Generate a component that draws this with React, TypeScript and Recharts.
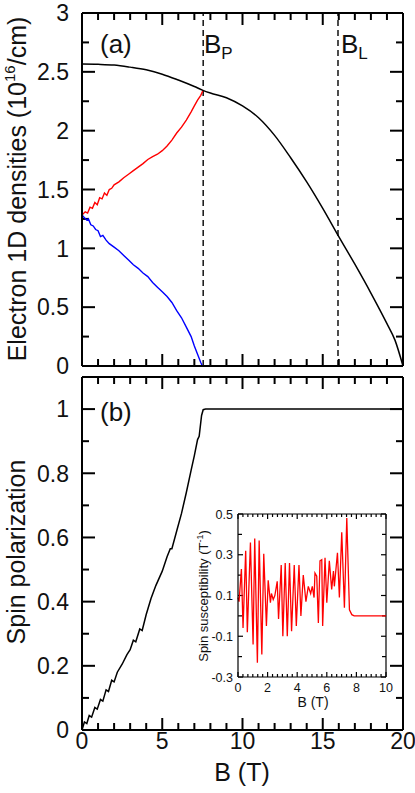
import React from 'react';
import { LineChart, Line, XAxis, YAxis, ReferenceLine } from 'recharts';

// panel (a): electron 1D densities, 10^16 /cm
const totalB = [0, 1, 2, 3, 4, 5, 6, 7, 7.5, 8, 9, 10, 11, 12, 13, 14, 15, 16, 17, 18, 19, 19.5, 20];
const totalN = [2.566, 2.564, 2.558, 2.54, 2.517, 2.48, 2.43, 2.375, 2.345, 2.32, 2.28, 2.21, 2.11, 1.96, 1.77, 1.565, 1.34, 1.1, 0.865, 0.62, 0.36, 0.22, 0];

const upB = [0, 0.2, 0.35, 0.5, 0.65, 0.8, 0.95, 1.1, 1.25, 1.4, 1.55, 1.7, 1.85, 2, 2.3, 2.6, 2.9, 3.2, 3.5, 3.8, 4.1, 4.4, 4.7, 5, 5.3, 5.6, 5.9, 6.2, 6.5, 6.8, 7, 7.2, 7.4, 7.55];
const upN = [1.283, 1.31, 1.3, 1.35, 1.34, 1.39, 1.37, 1.43, 1.42, 1.47, 1.45, 1.5, 1.51, 1.54, 1.565, 1.6, 1.63, 1.66, 1.69, 1.72, 1.755, 1.78, 1.8, 1.83, 1.87, 1.92, 1.98, 2.03, 2.09, 2.16, 2.21, 2.26, 2.3, 2.345];

const downB = [0, 0.15, 0.3, 0.4, 0.55, 0.7, 0.85, 1, 1.15, 1.3, 1.5, 1.7, 2, 2.3, 2.6, 2.9, 3.2, 3.5, 3.8, 4.1, 4.4, 4.7, 5, 5.3, 5.6, 5.9, 6.2, 6.5, 6.8, 7, 7.2, 7.4, 7.5];
const downN = [1.283, 1.26, 1.24, 1.25, 1.2, 1.19, 1.16, 1.15, 1.1, 1.11, 1.07, 1.04, 1.01, 0.98, 0.94, 0.9, 0.86, 0.83, 0.79, 0.76, 0.71, 0.67, 0.63, 0.59, 0.54, 0.47, 0.41, 0.33, 0.25, 0.17, 0.1, 0.03, 0];

const markerB = [7.55, 15.95];

// panel (b): spin polarization
const polB = [0, 0.15, 0.3, 0.45, 0.6, 0.8, 0.95, 1.15, 1.3, 1.5, 1.65, 1.85, 2, 2.2, 2.5, 2.8, 3, 3.2, 3.35, 3.6, 3.75, 4, 4.3, 4.6, 5, 5.3, 5.5, 5.6, 5.9, 6.2, 6.5, 6.8, 7, 7.2, 7.3, 7.45, 7.55, 7.7, 20];
const polP = [0, 0.025, 0.02, 0.045, 0.04, 0.07, 0.065, 0.095, 0.09, 0.125, 0.12, 0.155, 0.15, 0.18, 0.205, 0.235, 0.25, 0.28, 0.275, 0.315, 0.31, 0.36, 0.41, 0.45, 0.495, 0.54, 0.565, 0.565, 0.62, 0.675, 0.74, 0.81, 0.855, 0.905, 0.915, 0.98, 0.998, 1, 1];

// inset: spin susceptibility, 1/T
const chiB = [0, 0.07, 0.23, 0.34, 0.52, 0.63, 0.84, 1.02, 1.13, 1.31, 1.43, 1.61, 1.74, 1.92, 2.04, 2.19, 2.26, 2.38, 2.49, 2.65, 2.74, 2.92, 3.03, 3.19, 3.33, 3.48, 3.62, 3.8, 3.94, 4.12, 4.25, 4.41, 4.59, 4.75, 4.91, 5.02, 5.14, 5.2, 5.32, 5.43, 5.54, 5.66, 5.72, 5.88, 6, 6.17, 6.33, 6.45, 6.51, 6.72, 6.85, 7.01, 7.19, 7.35, 7.53, 7.69, 7.85, 10];
const chiV = [0.09, 0.07, 0.23, -0.06, 0.32, -0.08, 0.36, -0.14, 0.38, -0.23, 0.37, -0.19, 0.305, -0.05, 0.175, 0.065, 0.11, 0.08, 0.1, 0.17, -0.015, 0.25, -0.1, 0.26, -0.1, 0.26, -0.075, 0.25, -0.05, 0.25, 0, 0.2, 0.07, 0.145, 0.11, 0.145, 0.09, 0.21, 0.195, -0.035, 0.27, 0.276, -0.05, 0.285, 0.064, 0.27, 0.13, 0.22, 0.145, 0.31, 0.09, 0.41, 0.04, 0.48, 0.03, 0.006, 0, 0];

const topXTicks = ['0', '5', '10', '15', '20'];
const topYTicks = ['0', '0.5', '1', '1.5', '2', '2.5', '3'];
const botYTicks = ['0', '0.2', '0.4', '0.6', '0.8', '1'];
const insetXTicks = ['0', '2', '4', '6', '8', '10'];
const insetYTicks = ['-0.3', '-0.1', '0.1', '0.3', '0.5'];

const totalData = totalB.map((b, i) => ({ b, n: totalN[i] }));
const upData = upB.map((b, i) => ({ b, n: upN[i] }));
const downData = downB.map((b, i) => ({ b, n: downN[i] }));
const polData = polB.map((b, i) => ({ b, p: polP[i] }));
const chiData = chiB.map((b, i) => ({ b, c: chiV[i] }));

const FONT = '"Liberation Sans", Arial, sans-serif';

const steps = (from: number, to: number, step: number) =>
  Array.from({ length: Math.round((to - from) / step) + 1 }, (_, i) => +(from + i * step).toFixed(4));

const near = (v: number, list: string[]) => list.find((s) => Math.abs(parseFloat(s) - v) < 1e-6);

function labelTick(side: 'bottom' | 'left', labels: string[], fontSize: number, gap: number) {
  return (props: any) => {
    const { x, y, payload } = props;
    const lab = near(payload.value, labels);
    if (!lab) return <g />;
    if (side === 'bottom')
      return <text x={x} y={y + gap} dy="0.36em" textAnchor="middle" fontSize={fontSize} fill="#111" fontFamily={FONT}>{lab}</text>;
    return <text x={x - gap} y={y} dy="0.36em" textAnchor="end" fontSize={fontSize} fill="#111" fontFamily={FONT}>{lab}</text>;
  };
}

type FrameOpts = {
  xs: number[]; xLab: string[]; ys: number[]; yLab: string[];
  xDom: [number, number]; yDom: [number, number];
  pxX: number; pxY: number; // pixels per data unit
  xMaj: number; xMin: number; yMaj: number; yMin: number; // tick lengths in px
};

// inward tick marks on all four sides, one two-point series each
function tickSegs(o: FrameOpts) {
  const segs: { b: number; t: number }[][] = [];
  const [x0, x1] = o.xDom;
  const [y0, y1] = o.yDom;
  o.xs.forEach((v) => {
    const len = (near(v, o.xLab) ? o.xMaj : o.xMin) / o.pxY;
    segs.push([{ b: v, t: y0 }, { b: v, t: y0 + len }]);
    segs.push([{ b: v, t: y1 }, { b: v, t: y1 - len }]);
  });
  o.ys.forEach((v) => {
    const len = (near(v, o.yLab) ? o.yMaj : o.yMin) / o.pxX;
    segs.push([{ b: x0, t: v }, { b: x0 + len, t: v }]);
    segs.push([{ b: x1 - len, t: v }, { b: x1, t: v }]);
  });
  return segs;
}

function tickLines(segs: { b: number; t: number }[][], key: string, w: number) {
  return segs.map((s, i) => (
    <Line key={key + i} xAxisId="b" yAxisId="l" data={s} dataKey="t" type="linear" stroke="#000" strokeWidth={w} dot={false} activeDot={false} isAnimationActive={false} />
  ));
}

const axisLine = { stroke: '#000', strokeWidth: 2 };

function Rotated({ x, y, size, children }: { x: number; y: number; size: number; children: React.ReactNode }) {
  return (
    <div style={{ position: 'absolute', left: x, top: y, transform: 'translate(-50%, -50%) rotate(-90deg)', whiteSpace: 'nowrap', fontSize: size, lineHeight: 1, color: '#111' }}>
      {children}
    </div>
  );
}

function Txt({ x, y, size, children }: { x: number; y: number; size: number; children: React.ReactNode }) {
  return (
    <div style={{ position: 'absolute', left: x, top: y, transform: 'translateY(-50%)', whiteSpace: 'nowrap', fontSize: size, lineHeight: 1, color: '#111' }}>
      {children}
    </div>
  );
}

export default function App() {
  const xMinor = steps(0, 20, 1);
  const topY = steps(0, 3, 0.25);
  const botY = steps(0, 1.1, 0.1);
  const inX = steps(0, 10, 1 / 3);
  const inY = steps(-0.3, 0.5, 0.1);
  const ticksA = tickSegs({ xs: xMinor, xLab: topXTicks, ys: topY, yLab: topYTicks, xDom: [0, 20], yDom: [0, 3], pxX: 16.05, pxY: 117.7, xMaj: 12, xMin: 7, yMaj: 13, yMin: 7 });
  const ticksB = tickSegs({ xs: xMinor, xLab: topXTicks, ys: botY, yLab: botYTicks, xDom: [0, 20], yDom: [0, 1.1], pxX: 16.05, pxY: 321, xMaj: 12, xMin: 7, yMaj: 13, yMin: 7 });
  const ticksI = tickSegs({ xs: inX, xLab: insetXTicks, ys: inY, yLab: insetYTicks, xDom: [0, 10], yDom: [-0.3, 0.5], pxX: 14.8, pxY: 204, xMaj: 5, xMin: 3, yMaj: 5, yMin: 4 });
  return (
    <div style={{ position: 'absolute', left: 0, top: 0, width: 415, height: 793, background: '#fff', fontFamily: FONT }}>
      {/* (a) densities */}
      <div style={{ position: 'absolute', left: 0, top: 0 }}>
        <LineChart width={415} height={382} margin={{ top: 13, right: 12, left: 0, bottom: 6 }}>
          <XAxis xAxisId="b" type="number" dataKey="b" domain={[0, 20]} ticks={xMinor} interval={0} height={10} tickSize={0} tickMargin={0} axisLine={axisLine} tickLine={false} tick={false} />
          <YAxis yAxisId="l" type="number" domain={[0, 3]} ticks={topY} interval={0} width={82} tickSize={0} tickMargin={0} axisLine={axisLine} tickLine={false} tick={labelTick('left', topYTicks, 23, 13)} />
          <ReferenceLine xAxisId="b" yAxisId="l" y={3} stroke="#000" strokeWidth={2} />
          <ReferenceLine xAxisId="b" yAxisId="l" x={20} stroke="#000" strokeWidth={2} />
          {markerB.map((b) => (
            <ReferenceLine key={b} xAxisId="b" yAxisId="l" x={b} stroke="#000" strokeWidth={1.4} strokeDasharray="6 4" />
          ))}
          {tickLines(ticksA, 'a', 2)}
          <Line xAxisId="b" yAxisId="l" data={upData} dataKey="n" type="linear" stroke="#ff0000" strokeWidth={1.4} dot={false} isAnimationActive={false} />
          <Line xAxisId="b" yAxisId="l" data={downData} dataKey="n" type="linear" stroke="#0000ff" strokeWidth={1.4} dot={false} isAnimationActive={false} />
          <Line xAxisId="b" yAxisId="l" data={totalData} dataKey="n" type="monotone" stroke="#000" strokeWidth={1.5} dot={false} isAnimationActive={false} />
        </LineChart>
      </div>

      {/* (b) polarization */}
      <div style={{ position: 'absolute', left: 0, top: 370 }}>
        <LineChart width={415} height={423} margin={{ top: 7, right: 12, left: 0, bottom: 13 }}>
          <XAxis xAxisId="b" type="number" dataKey="b" domain={[0, 20]} ticks={xMinor} interval={0} height={50} tickSize={0} tickMargin={0} axisLine={axisLine} tickLine={false} tick={labelTick('bottom', topXTicks, 23, 11)} />
          <YAxis yAxisId="l" type="number" domain={[0, 1.1]} ticks={botY} interval={0} width={82} tickSize={0} tickMargin={0} axisLine={axisLine} tickLine={false} tick={labelTick('left', botYTicks, 23, 13)} />
          <ReferenceLine xAxisId="b" yAxisId="l" y={1.1} stroke="#000" strokeWidth={2} />
          <ReferenceLine xAxisId="b" yAxisId="l" x={20} stroke="#000" strokeWidth={2} />
          {tickLines(ticksB, 'b', 2)}
          <Line xAxisId="b" yAxisId="l" data={polData} dataKey="p" type="linear" stroke="#000" strokeWidth={1.5} dot={false} isAnimationActive={false} />
        </LineChart>
      </div>

      {/* inset */}
      <div style={{ position: 'absolute', left: 190, top: 505 }}>
        <LineChart width={215} height={210} margin={{ top: 9, right: 19, left: 0, bottom: 8 }}>
          <XAxis xAxisId="b" type="number" dataKey="b" domain={[0, 10]} ticks={inX} interval={0} height={30} tickSize={0} tickMargin={0} axisLine={{ stroke: '#000', strokeWidth: 1.2 }} tickLine={false} tick={labelTick('bottom', insetXTicks, 12.5, 10)} />
          <YAxis yAxisId="l" type="number" domain={[-0.3, 0.5]} ticks={inY} interval={0} width={48} tickSize={0} tickMargin={0} axisLine={{ stroke: '#000', strokeWidth: 1.2 }} tickLine={false} tick={labelTick('left', insetYTicks, 12.5, 5)} />
          <ReferenceLine xAxisId="b" yAxisId="l" y={0.5} stroke="#000" strokeWidth={1.2} />
          <ReferenceLine xAxisId="b" yAxisId="l" x={10} stroke="#000" strokeWidth={1.2} />
          {tickLines(ticksI, 'i', 1.2)}
          <Line xAxisId="b" yAxisId="l" data={chiData} dataKey="c" type="linear" stroke="#ff0000" strokeWidth={1.3} dot={false} isAnimationActive={false} />
        </LineChart>
      </div>

      <Rotated x={17} y={189} size={25}>
        Electron 1D densities (10<sup style={{ fontSize: 15, verticalAlign: 'top', position: 'relative', top: -3 }}>16</sup>/cm)
      </Rotated>
      <Rotated x={16} y={552} size={25}>Spin polarization</Rotated>
      <Rotated x={203} y={596} size={13}>
        Spin susceptibility (T<sup style={{ fontSize: 9, verticalAlign: 'top', position: 'relative', top: -1 }}>-1</sup>)
      </Rotated>

      <Txt x={100} y={44} size={26}>(a)</Txt>
      <Txt x={100} y={412} size={26}>(b)</Txt>
      <Txt x={204} y={44} size={26}>
        B<span style={{ fontSize: 17, position: 'relative', top: 6 }}>P</span>
      </Txt>
      <Txt x={341} y={44} size={26}>
        B<span style={{ fontSize: 17, position: 'relative', top: 6 }}>L</span>
      </Txt>

      <div style={{ position: 'absolute', left: 242, top: 772, transform: 'translate(-50%, -50%)', fontSize: 25, lineHeight: 1, color: '#111', whiteSpace: 'nowrap' }}>B (T)</div>
      <div style={{ position: 'absolute', left: 313, top: 702, transform: 'translate(-50%, -50%)', fontSize: 14, lineHeight: 1, color: '#111', whiteSpace: 'nowrap' }}>B (T)</div>
    </div>
  );
}
